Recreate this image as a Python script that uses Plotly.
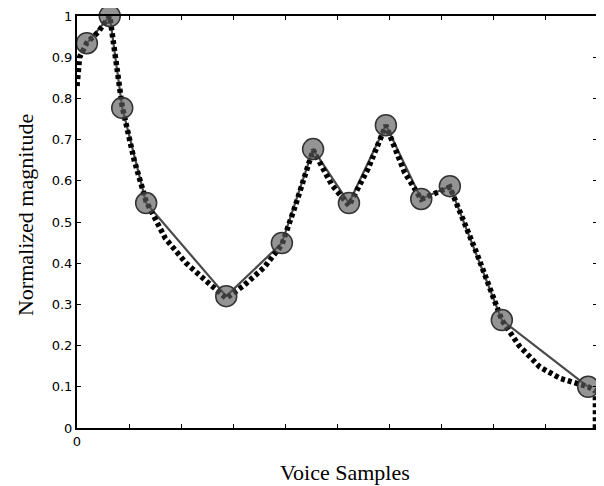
import plotly.graph_objects as go

# Sample points (circles, joined by the solid line)
sample_x = [0.19, 0.63, 0.87, 1.33, 2.87, 3.94, 4.54, 5.23, 5.94, 6.62, 7.17, 8.17, 9.83]
sample_y = [0.934, 1.0, 0.777, 0.546, 0.320, 0.449, 0.677, 0.546, 0.735, 0.556, 0.587, 0.262, 0.100]

# Envelope curve (dotted)
env_x = [0.0, 0.05, 0.19, 0.40, 0.63, 0.87, 1.10, 1.33, 1.70, 2.10, 2.50, 2.87, 3.20, 3.60,
         3.94, 4.20, 4.54, 4.90, 5.23, 5.60, 5.94, 6.30, 6.62, 6.90, 7.17, 7.70, 8.17, 8.50,
         8.90, 9.30, 9.83, 9.97, 9.97]
env_y = [0.83, 0.90, 0.935, 0.96, 1.0, 0.78, 0.65, 0.55, 0.46, 0.40, 0.355, 0.315, 0.345, 0.39,
         0.445, 0.54, 0.675, 0.59, 0.54, 0.63, 0.735, 0.62, 0.555, 0.57, 0.585, 0.42, 0.262, 0.20,
         0.148, 0.12, 0.10, 0.09, 0.0]

x_tick_vals = list(range(0, 11))
x_tick_text = ["0"] + [""] * 10
y_tick_vals = [0, 0.1, 0.2, 0.3, 0.4, 0.5, 0.6, 0.7, 0.8, 0.9, 1]
y_tick_text = ["0", "0.1", "0.2", "0.3", "0.4", "0.5", "0.6", "0.7", "0.8", "0.9", "1"]

fig = go.Figure()
fig.add_trace(go.Scatter(x=sample_x, y=sample_y, mode="lines",
                         line=dict(color="#4a4a4a", width=2.2), showlegend=False))
fig.add_trace(go.Scatter(x=env_x, y=env_y, mode="lines",
                         line=dict(color="black", width=5.5, dash="4px,3px"), showlegend=False))
fig.add_trace(go.Scatter(x=sample_x, y=sample_y, mode="markers", cliponaxis=False,
                         marker=dict(size=21, color="rgba(90,90,90,0.65)",
                                     line=dict(color="#333333", width=1.5)),
                         showlegend=False))

axis_common = dict(showline=True, linecolor="black", linewidth=2, mirror="ticks",
                   ticks="inside", ticklen=4, tickwidth=1, tickcolor="black",
                   showgrid=False, zeroline=False, automargin=False,
                   tickfont=dict(family="DejaVu Sans", size=13, color="black"))

fig.update_layout(
    width=596, height=478,
    margin=dict(l=69, r=7, t=8, b=58),
    paper_bgcolor="white", plot_bgcolor="white",
    xaxis=dict(range=[0, 10], tickmode="array", tickvals=x_tick_vals, ticktext=x_tick_text,
               **axis_common),
    yaxis=dict(range=[0, 1], tickmode="array", tickvals=y_tick_vals, ticktext=y_tick_text,
               **axis_common),
    annotations=[
        dict(text="Voice Samples", xref="paper", yref="paper", x=0.515, y=-0.109,
             xanchor="center", yanchor="middle", showarrow=False,
             font=dict(family="Liberation Serif", size=22, color="black")),
        dict(text="Normalized magnitude", xref="paper", yref="paper", x=-0.098, y=0.517,
             xanchor="center", yanchor="middle", showarrow=False, textangle=-90,
             font=dict(family="Liberation Serif", size=22, color="black")),
    ],
)

fig.write_html("out.html")
